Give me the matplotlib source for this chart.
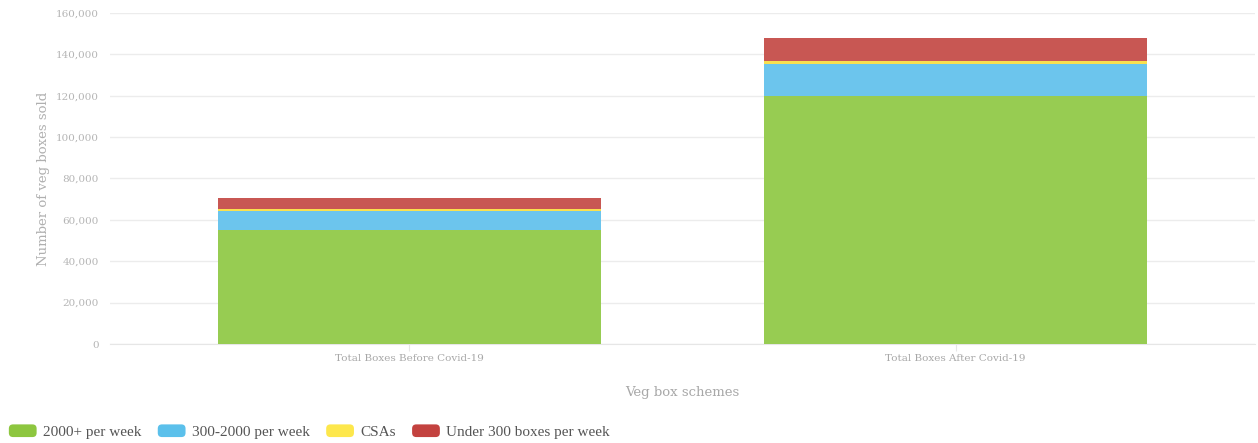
import matplotlib
matplotlib.use('Agg')
import matplotlib.pyplot as plt
from matplotlib.patches import FancyBboxPatch
from matplotlib.legend_handler import HandlerPatch
from matplotlib.ticker import FuncFormatter

categories = ['Total Boxes Before Covid-19', 'Total Boxes After Covid-19']
series_names = ['2000+ per week', '300-2000 per week', 'CSAs', 'Under 300 boxes per week']
big = [55000, 120000]
mid = [9300, 15200]
csa = [1000, 1400]
small = [5100, 11200]

bar_colors = ['#97cc52', '#6cc5ed', '#f9e04f', '#c85753']
legend_colors = ['#8dc63f', '#5bc0eb', '#fde74c', '#c3423f']

plt.rcParams['font.family'] = ['DejaVu Serif']

fig = plt.figure(figsize=(12.58, 4.43), dpi=100)
ax = fig.add_axes([110/1258, 1 - 344/443, (1255-110)/1258, (344-13)/443])

x = range(len(categories))
bottom = [0, 0]
for vals, name, col in zip([big, mid, csa, small], series_names, bar_colors):
    ax.bar(x, vals, width=0.70, bottom=bottom, color=col, label=name,
           linewidth=0, zorder=3)
    bottom = [b + v for b, v in zip(bottom, vals)]

ax.set_xlim(-0.5485, 1.5485)
ax.set_ylim(0, 160000)
ax.set_yticks(range(0, 160001, 20000))
ax.yaxis.set_major_formatter(FuncFormatter(lambda v, p: f'{int(v):,}'))
ax.set_xticks(list(x))
ax.set_xticklabels(categories)

ax.grid(axis='y', color='#ececec', linewidth=1, zorder=0)
for s in ['top', 'right', 'left']:
    ax.spines[s].set_visible(False)
ax.spines['bottom'].set_color('#e6e6e6')
ax.tick_params(axis='y', length=0, pad=8, labelsize=7.5, labelcolor='#b5b5b5')
ax.tick_params(axis='x', length=5, color='#e6e6e6', pad=2, labelsize=7.5, labelcolor='#a8a8a8')

ax.set_ylabel('Number of veg boxes sold', fontsize=9.5, color='#b0b0b0', labelpad=4)
ax.set_xlabel('Veg box schemes', fontsize=9.5, color='#a8a8a8', labelpad=17)


class RoundHandler(HandlerPatch):
    def create_artists(self, legend, orig_handle, xdescent, ydescent, width, height, fontsize, trans):
        p = FancyBboxPatch((-xdescent + 1, -ydescent), width - 2, height,
                           boxstyle='round,pad=0,rounding_size=3',
                           facecolor=orig_handle.get_facecolor(), edgecolor='none', transform=trans)
        return [p]


handles = [plt.Rectangle((0, 0), 1, 1, facecolor=c) for c in legend_colors]
leg = fig.legend(handles, series_names, loc='lower left', bbox_to_anchor=(-0.005, -0.022),
                 ncol=4, frameon=False, prop={'family': 'Liberation Serif', 'size': 11},
                 handlelength=2.0, handleheight=0.9,
                 handletextpad=0.3, columnspacing=1.0,
                 handler_map={plt.Rectangle: RoundHandler()})
for t in leg.get_texts():
    t.set_color('#555555')

fig.savefig('out.png', dpi=100)
